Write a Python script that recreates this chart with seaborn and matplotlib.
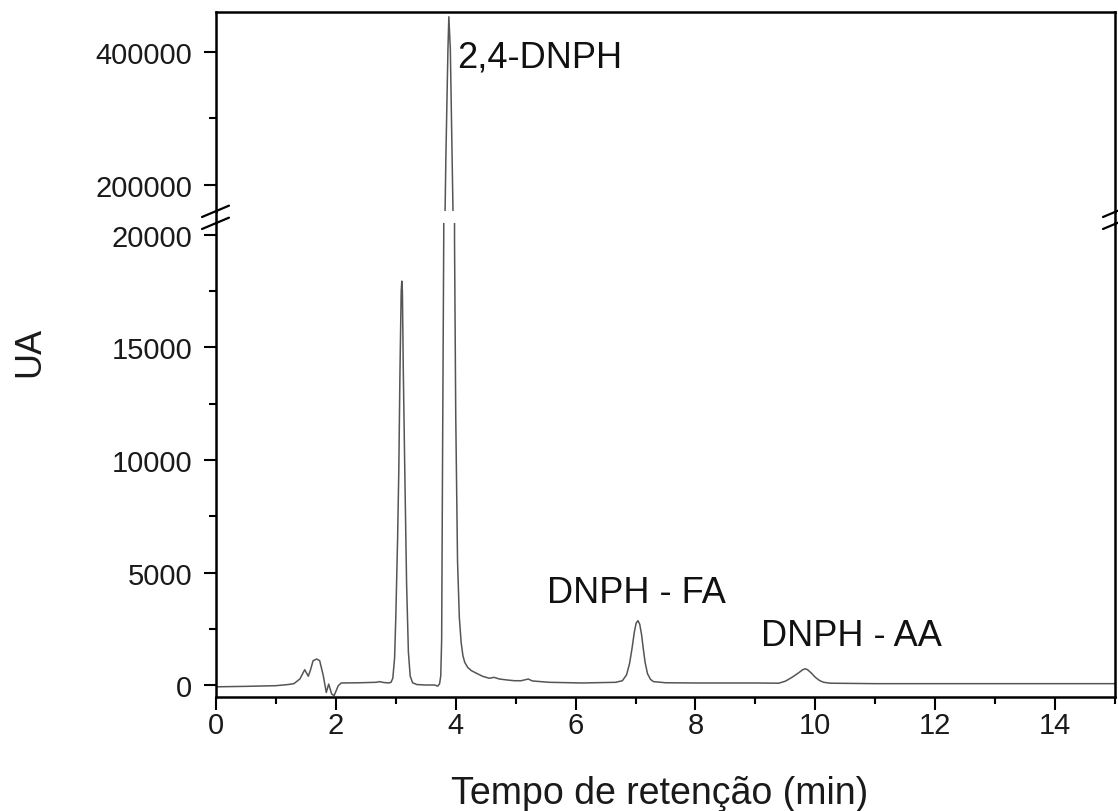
import matplotlib
matplotlib.use('Agg')
import matplotlib.pyplot as plt
from matplotlib.lines import Line2D
from matplotlib.ticker import MultipleLocator
import seaborn as sns
import pandas as pd

# chromatogram trace (time in min, signal in UA)
time_min = [0.0, 0.5, 1.0, 1.2, 1.3, 1.4, 1.48, 1.54, 1.58, 1.62, 1.68, 1.73,
            1.79, 1.84, 1.88, 1.93, 1.97, 2.04, 2.09, 2.4, 2.67, 2.73, 2.80,
            2.88, 2.92, 2.95, 2.98, 3.0, 3.03, 3.05, 3.07, 3.09, 3.10, 3.11,
            3.125, 3.15, 3.18, 3.21, 3.24, 3.28, 3.35, 3.5, 3.65, 3.70, 3.73,
            3.75, 3.765, 3.78, 3.80, 3.835, 3.87, 3.885, 3.91, 3.94, 3.98,
            4.00, 4.03, 4.06, 4.09, 4.12, 4.15, 4.20, 4.26, 4.34, 4.45, 4.56,
            4.64, 4.73, 4.87, 4.98, 5.09, 5.21, 5.28, 5.56, 6.11, 6.67, 6.78,
            6.85, 6.90, 6.94, 6.98, 7.01, 7.04, 7.07, 7.10, 7.13, 7.16, 7.20,
            7.25, 7.30, 7.5, 8.0, 8.5, 9.0, 9.39, 9.5, 9.61, 9.72, 9.79, 9.83,
            9.87, 9.93, 10.0, 10.07, 10.14, 10.25, 11.0, 12.0, 13.0, 14.0, 15.0]
signal_ua = [-80, -60, -30, 20, 60, 270, 680, 390, 700, 1080, 1155, 1080,
             415, -330, 40, -400, -475, -30, 90, 100, 120, 150, 110,
             90, 120, 300, 1200, 3000, 6500, 9500, 14000, 17500, 17950, 17500,
             14000, 9500, 4500, 1470, 400, 100, 20, 0, 0, -50, 50,
             400, 2000, 10000, 20000, 239000, 404000, 453000, 404000, 239000, 19700,
             12000, 5500, 3000, 1900, 1300, 1010, 780, 640, 530, 385, 300,
             340, 265, 220, 190, 190, 265, 180, 120, 90, 120, 190,
             450, 950, 1600, 2350, 2750, 2860, 2700, 2250, 1600, 1000, 500,
             250, 150, 100, 90, 90, 90, 80, 170, 340, 540, 680, 720,
             680, 540, 340, 200, 120, 80, 60, 60, 60, 60, 60]

labels = ['2,4-DNPH', 'DNPH - FA', 'DNPH - AA']
label_x = [4.02, 5.53, 9.10]
label_y = [392500, 4090, 2180]

df = pd.DataFrame({'t': time_min, 'ua': signal_ua})

sns.set_theme(style='ticks')
plt.rcParams['font.family'] = ['Liberation Sans', 'DejaVu Sans']

W, H = 1118, 812
fig = plt.figure(figsize=(W / 100, H / 100), dpi=100)


def rect(l, t, r, b):
    return [l / W, 1 - b / H, (r - l) / W, (b - t) / H]


def fx(px):
    return px / W


def fy(py):
    return 1 - py / H


ax_top = fig.add_axes(rect(216, 13, 1115, 212))
ax_bot = fig.add_axes(rect(216, 224, 1115, 698))

line_col = '#555555'
spine_lw = 1.8
for ax in (ax_top, ax_bot):
    sns.lineplot(data=df, x='t', y='ua', ax=ax, color=line_col, linewidth=1.1,
                 estimator=None, sort=False)
    ax.set_xlim(0, 15)
    ax.set_xlabel('')
    ax.set_ylabel('')
    for s in ax.spines.values():
        s.set_linewidth(spine_lw)
        s.set_color('black')
    ax.tick_params(axis='both', which='major', length=9, width=1.5,
                   labelsize=21, color='black', labelcolor='#1a1a1a')
    ax.tick_params(axis='both', which='minor', length=5, width=1.5,
                   color='black')
    ax.tick_params(axis='x', pad=1)
    ax.tick_params(axis='y', pad=8)

ax_top.set_ylim(160900, 460150)
ax_top.yaxis.set_major_locator(MultipleLocator(200000))
ax_top.yaxis.set_minor_locator(MultipleLocator(100000))
ax_top.spines['bottom'].set_visible(False)
ax_top.tick_params(axis='x', which='both', bottom=False, labelbottom=False)

ax_bot.set_ylim(-533, 20533)
ax_bot.yaxis.set_major_locator(MultipleLocator(5000))
ax_bot.yaxis.set_minor_locator(MultipleLocator(2500))
ax_bot.xaxis.set_major_locator(MultipleLocator(2))
ax_bot.xaxis.set_minor_locator(MultipleLocator(1))
ax_bot.spines['top'].set_visible(False)

# join the spines across the gap
for px in (216, 1115):
    fig.add_artist(Line2D([fx(px), fx(px)], [fy(212), fy(224)],
                          color='black', lw=spine_lw))

# break marks
for px0, px1 in ((202, 229), (1103, 1118)):
    for dy in (0, 12):
        y0 = 218 + dy
        y1 = y0 - (px1 - px0) * 0.42
        fig.add_artist(Line2D([fx(px0), fx(px1)], [fy(y0), fy(y1)],
                              color='black', lw=1.6))

ax_top.text(label_x[0], label_y[0], labels[0], fontsize=26, va='center',
            ha='left', color='#111111')
ax_bot.text(label_x[1], label_y[1], labels[1], fontsize=26, va='center',
            ha='left', color='#111111')
ax_bot.text(label_x[2], label_y[2], labels[2], fontsize=26, va='center',
            ha='left', color='#111111')

fig.text(fx(660), fy(794), 'Tempo de retenção (min)', fontsize=27,
         ha='center', va='center', color='#1a1a1a')
fig.text(fx(30), fy(352), 'UA', fontsize=26, rotation=90,
         ha='center', va='center', color='#1a1a1a')

fig.savefig('out.png', dpi=100)
